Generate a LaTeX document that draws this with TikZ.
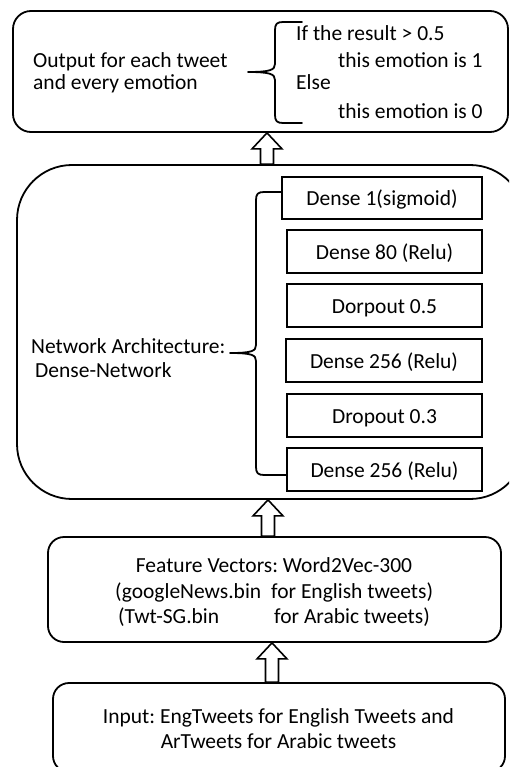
\documentclass[tikz,border=0pt]{standalone}
\usepackage{fontspec}
\setmainfont{Carlito}
\usetikzlibrary{calc}
\frenchspacing
\begin{document}
\begin{tikzpicture}[x=1pt,y=-1pt,
  font=\fontsize{21.5}{25}\selectfont,
  bigbox/.style={draw, line width=1.8pt, inner sep=0pt},
  layer/.style={draw, line width=2.2pt, inner sep=0pt, text height=16pt, text depth=0pt},
  txt/.style={inner sep=0pt, anchor=base west},
  ctxt/.style={inner sep=0pt, anchor=base},
  bracepath/.style={line width=1.8pt, line cap=round, line join=round},
  blockarr/.style={draw, line width=1.6pt, fill=white, line join=miter,
    to path={let \p1=(\tikztostart), \p2=(\tikztotarget) in
      (\x1-6.5pt,\y1) -- (\x1-6.5pt,\y2-16pt) -- (\x1-15pt,\y2-16pt) -- (\x1,\y2)
      -- (\x1+15pt,\y2-16pt) -- (\x1+6.5pt,\y2-16pt) -- (\x1+6.5pt,\y1) -- cycle}}
]
\useasboundingbox (0,0) rectangle (509,767);
\clip (0,0) rectangle (509,767);
\fill[white] (0,0) rectangle (509,767);

% boxes
\node[bigbox, rounded corners=18pt, minimum width=495pt, minimum height=121pt] (out) at (260.5,71.5) {};
\node[bigbox, rounded corners=55pt, minimum width=508pt, minimum height=334pt] (mid) at (271,332) {};
\node[bigbox, rounded corners=16pt, minimum width=453pt, minimum height=105pt] (feat) at (274.5,589.5) {};
\node[bigbox, rounded corners=16pt, minimum width=452pt, minimum height=89pt] (inp) at (279,727.5) {};

% layers
\node[layer, minimum width=200pt, minimum height=42pt] (d1) at (382,198) {Dense 1(sigmoid)};
\node[layer, minimum width=195pt, minimum height=43pt] (d2) at (384.5,251.5) {Dense 80 (Relu)};
\node[layer, minimum width=195pt, minimum height=43pt] (d3) at (384.5,305.5) {Dorpout 0.5};
\node[layer, minimum width=196pt, minimum height=43pt] (d4) at (384,360.5) {Dense 256 (Relu)};
\node[layer, minimum width=195pt, minimum height=43pt] (d5) at (384.5,415.5) {Dropout 0.3};
\node[layer, minimum width=195pt, minimum height=43pt] (d6) at (384.5,469.5) {Dense 256 (Relu)};

% texts
\node[txt] (o1) at (33,68) {Output for each tweet};
\node[txt] (o2) at (33,90) {and every emotion};
\node[txt] (r1) at (296,41) {If the result > 0.5};
\node[txt] (r2) at (338,68) {this emotion is 1};
\node[txt] (r3) at (296,90) {Else};
\node[txt] (r4) at (338,119) {this emotion is 0};
\node[txt] (n1) at (31,353) {Network Architecture:};
\node[txt] (n2) at (35,377) {Dense-Network};
\node[ctxt] (f1) at (274,572) {Feature Vectors: Word2Vec-300};
\node[txt] (f2a) at (115,598) {(googleNews.bin};
\node[txt] (f2b) at (271,598) {for English tweets)};
\node[txt] (f3a) at (118,623) {(Twt-SG.bin};
\node[txt] (f3b) at (274,623) {for Arabic tweets)};
\node[ctxt] (i1) at (278.5,723) {Input: EngTweets for English Tweets and};
\node[ctxt] (i2) at (278.5,748) {ArTweets for Arabic tweets};

% braces
\draw[bracepath] (302,22) -- (283,22) .. controls (277,22) and (275,24) .. (275,30)
  -- (275,64) .. controls (275,70) and (270,72) .. (248,72)
  .. controls (270,72) and (275,74) .. (275,80)
  -- (275,115) .. controls (275,121) and (277,123) .. (283,123) -- (302,123);
\draw[bracepath] (d1.west |- 0,192) -- (264,192) .. controls (258,192) and (256,194) .. (256,200)
  -- (256,345) .. controls (256,351) and (252,353) .. (230,353)
  .. controls (252,353) and (256,355) .. (256,361)
  -- (256,467) .. controls (256,473) and (258,475) .. (264,475) -- (d6.west |- 0,475);

% hollow arrows
\coordinate (x1) at (267,0);
\coordinate (x2) at (268,0);
\coordinate (x3) at (272,0);
\coordinate (a1s) at (mid.north -| x1);
\coordinate (a1t) at (out.south -| x1);
\coordinate (a2s) at (feat.north -| x2);
\coordinate (a2t) at (mid.south -| x2);
\coordinate (a3s) at (inp.north -| x3);
\coordinate (a3t) at (feat.south -| x3);
\draw[blockarr] (a1s) to (a1t);
\draw[blockarr] (a2s) to (a2t);
\draw[blockarr] (a3s) to (a3t);
\end{tikzpicture}
\end{document}
